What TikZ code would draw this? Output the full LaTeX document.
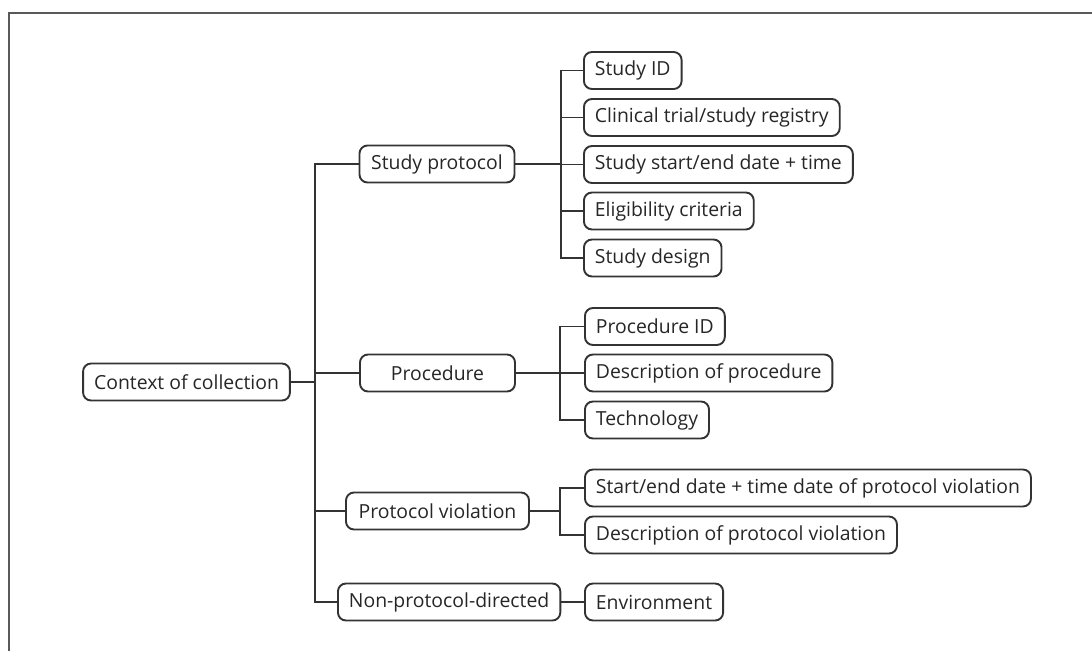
\documentclass[tikz,border=0pt]{standalone}
\usepackage{fontspec}
\setmainfont{Open Sans}
\begin{document}
\begin{tikzpicture}[x=1pt,y=-1pt]
\tikzstyle{box}=[draw=black!80,line width=1.9pt,rounded corners=8pt,minimum height=37pt,inner xsep=11pt,font=\fontsize{19.4}{22}\selectfont,text=black!85]
\tikzstyle{leaf}=[box,anchor=west]
\tikzstyle{link}=[draw=black!80,line width=1.9pt]
\useasboundingbox (0,0) rectangle (1092,651);
\draw[black!65,line width=1.9pt] (9,651) -- (9,13) -- (1092,13);
\node[box] (ctx) at (186.5,382) {Context of collection};
\node[box,minimum width=155pt] (sp) at (437,164) {Study protocol};
\node[box,minimum width=155pt] (proc) at (437.5,373) {Procedure};
\node[box,minimum width=183pt] (pv) at (437.5,511) {Protocol violation};
\node[box,anchor=west] (npd) at (337,602) {Non-protocol-directed};
\node[leaf] (sid) at (583,70.5) {Study ID};
\node[leaf] (reg) at (583,117.5) {Clinical trial/study registry};
\node[leaf] (sdate) at (583,164.5) {Study start/end date + time};
\node[leaf] (elig) at (583,211) {Eligibility criteria};
\node[leaf] (sdes) at (583,258) {Study design};
\node[leaf] (pid) at (584,326.5) {Procedure ID};
\node[leaf] (pdesc) at (584,373) {Description of procedure};
\node[leaf] (tech) at (584,420) {Technology};
\node[leaf] (vdate) at (584,488) {Start/end date + time date of protocol violation};
\node[leaf] (vdesc) at (584,535) {Description of protocol violation};
\node[leaf] (env) at (584,602) {Environment};
\draw[link] (ctx.east) -- ++(24,0) |- (sp.west);
\draw[link] (ctx.east) -- ++(24,0) |- (proc.west);
\draw[link] (ctx.east) -- ++(24,0) |- (pv.west);
\draw[link] (ctx.east) -- ++(24,0) |- (npd.west);
\draw[link] (sid.west) -- ++(-22,0) |- (sp.east);
\draw[link] (reg.west) -- ++(-22,0) |- (sp.east);
\draw[link] (sdate.west) -- ++(-22,0) |- (sp.east);
\draw[link] (elig.west) -- ++(-22,0) |- (sp.east);
\draw[link] (sdes.west) -- ++(-22,0) |- (sp.east);
\draw[link] (pid.west) -- ++(-24,0) |- (proc.east);
\draw[link] (pdesc.west) -- ++(-24,0) |- (proc.east);
\draw[link] (tech.west) -- ++(-24,0) |- (proc.east);
\draw[link] (vdate.west) -- ++(-24,0) |- (pv.east);
\draw[link] (vdesc.west) -- ++(-24,0) |- (pv.east);
\draw[link] (npd.east) -- (env.west);
\end{tikzpicture}
\end{document}
